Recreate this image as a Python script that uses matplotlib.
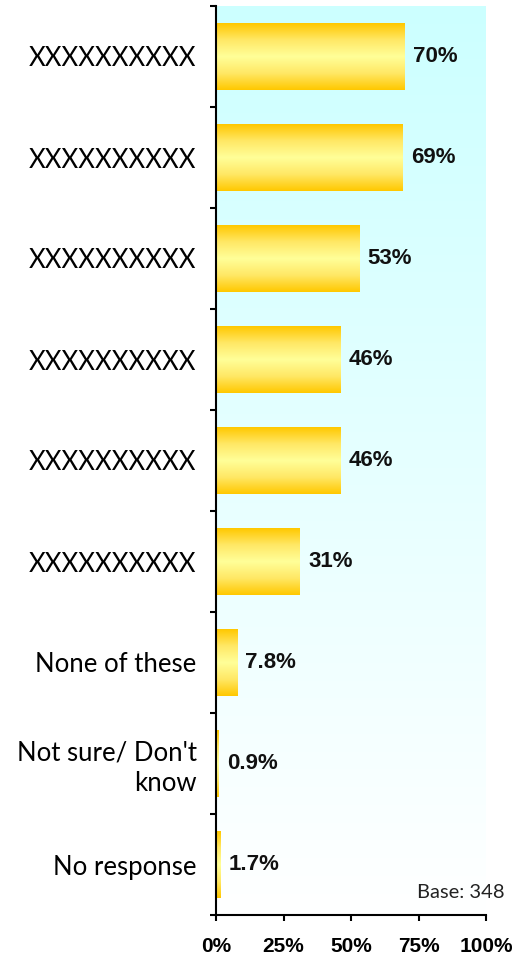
import numpy as np
import matplotlib.pyplot as plt
from matplotlib.colors import LinearSegmentedColormap

categories = ["XXXXXXXXXX", "XXXXXXXXXX", "XXXXXXXXXX", "XXXXXXXXXX",
              "XXXXXXXXXX", "XXXXXXXXXX", "None of these",
              "Not sure/ Don't\nknow", "No response"]
values = [70, 69, 53, 46, 46, 31, 7.8, 0.9, 1.7]
value_labels = ["70%", "69%", "53%", "46%", "46%", "31%", "7.8%", "0.9%", "1.7%"]
x_ticks = [0, 25, 50, 75, 100]
x_tick_labels = ["0%", "25%", "50%", "75%", "100%"]
base_text = "Base: 348"

W, H = 514, 961
DPI = 100
fig = plt.figure(figsize=(W / DPI, H / DPI), dpi=DPI)
ax = fig.add_axes([216 / W, 1 - 915 / H, 270 / W, 909 / H])

n = len(categories)
pos = np.arange(n)
bar_h = 0.66

# background: light cyan at the top fading to white
bg = LinearSegmentedColormap.from_list("bg", ["#ffffff", "#ccffff"])
ax.imshow(np.linspace(0, 1, 256).reshape(-1, 1)[::-1], cmap=bg, aspect="auto",
          extent=[0, 1, 0, 1], transform=ax.transAxes, zorder=0)

# bars: orange edges with a pale yellow middle
bar_cmap = LinearSegmentedColormap.from_list(
    "bar", ["#ffc800", "#ffe866", "#ffff99", "#ffe866", "#ffc800"])
grad = np.linspace(0, 1, 128).reshape(-1, 1)
for y, v, lab in zip(pos, values, value_labels):
    ax.imshow(grad, cmap=bar_cmap, aspect="auto",
              extent=[0, v, y + bar_h / 2, y - bar_h / 2], zorder=2)
    ax.annotate(lab, (v, y), xytext=(6, 0), textcoords="offset points",
                ha="left", va="center", fontsize=16, fontweight="bold",
                family="Liberation Sans", color="#111111")

ax.set_xlim(0, 100)
ax.set_ylim(n - 0.5, -0.5)
ax.set_aspect("auto")

for s in ["top", "right"]:
    ax.spines[s].set_visible(False)
for s in ["left", "bottom"]:
    ax.spines[s].set_linewidth(1.5)

ax.set_yticks(pos)
ax.set_yticklabels(categories, fontsize=18.5, family="Lato", ha="right",
                   linespacing=1.25)
ax.tick_params(axis="y", which="major", length=0, pad=14)
ax.set_yticks(np.arange(n + 1) - 0.5, minor=True)
ax.tick_params(axis="y", which="minor", length=4, width=1.5, direction="out")

ax.set_xticks(x_ticks)
ax.set_xticklabels(x_tick_labels, fontsize=15, fontweight="bold", family="Liberation Sans")
ax.tick_params(axis="x", length=4, width=1.5, direction="out", pad=12)

fig.text(505 / W, 1 - 893 / H, base_text, ha="right", va="center",
         fontsize=14.5, family="Lato", color="#222222")

fig.savefig("out.png", dpi=DPI)
